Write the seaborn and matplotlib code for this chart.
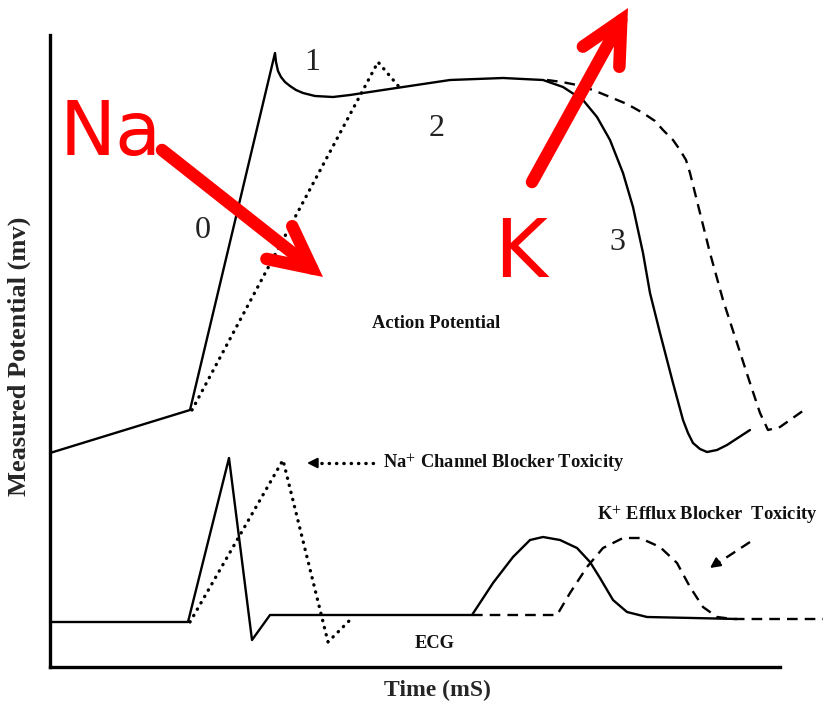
import numpy as np
import pandas as pd
import matplotlib
matplotlib.use("Agg")
import matplotlib.pyplot as plt
import seaborn as sns

# potentiel d'action (courbe normale, bloqueur K+, bloqueur Na+)
ap_t = [0, 140, 225, 226, 228, 231, 235, 240, 246, 253, 265, 283, 300, 333, 400,
        453, 493, 513, 533, 547, 560, 573, 583, 593, 600, 610, 623, 633, 638, 643,
        650, 657, 667, 677, 700]
ap_v = [214, 257, 614, 605, 596, 590, 585, 581, 577, 574, 571, 570, 572, 577, 587,
        589, 587, 580, 567, 550, 527, 494, 460, 414, 374, 334, 284, 247, 234, 224,
        218, 215, 217, 222, 237]

apk_t = [497, 512, 527, 543, 560, 577, 593, 605, 613, 623, 630, 636, 640, 650,
         660, 673, 687, 700, 710, 718, 730, 757]
apk_v = [587, 585, 582, 577, 570, 563, 554, 546, 537, 527, 517, 507, 494, 454,
         414, 367, 324, 284, 254, 237, 240, 259]

apna_t = [142, 328, 350]
apna_v = [257, 605, 579]

# ECG
ecg_t = [0, 138, 179, 202, 220, 422, 443, 463, 480, 493, 510, 527, 540, 550, 563,
         577, 597, 643, 687]
ecg_v = [45, 45, 209, 27, 52, 52, 84, 110, 127, 130, 127, 119, 105, 89, 67,
         55, 50, 49, 48]

ecgna_t = [140, 233, 278, 303]
ecgna_v = [45, 207, 25, 50]

ecgk_t = [422, 507, 520, 537, 553, 573, 590, 610, 627, 640, 653, 667, 683, 773]
ecgk_v = [52, 52, 74, 100, 119, 129, 129, 120, 104, 80, 60, 50, 48, 48]

phase_labels = ["0", "1", "2", "3"]
phase_pos = [(153, 437), (262, 604), (387, 539), (567, 424)]

sns.set_style("white")
plt.rcParams["font.family"] = ["Liberation Serif", "DejaVu Serif"]
plt.rcParams["mathtext.fontset"] = "stix"

fig = plt.figure(figsize=(8.3, 7.04), dpi=100)
ax = fig.add_axes([50 / 830, 37 / 704, 730 / 830, 632 / 704])
ax.set_xlim(0, 730)
ax.set_ylim(0, 632)

solid = dict(lw=1.7)
dashed = dict(lw=1.7, linestyle=(0, (4.5, 3)))
dotted = dict(lw=2.4, linestyle=(0, (0.1, 2.1)), dash_capstyle="round")
kw = dict(ax=ax, color="black", sort=False, clip_on=False, legend=False)

sns.lineplot(x=ap_t, y=ap_v, **solid, **kw)
sns.lineplot(x=apk_t, y=apk_v, **dashed, **kw)
sns.lineplot(x=apna_t, y=apna_v, **dotted, **kw)
sns.lineplot(x=ecg_t, y=ecg_v, **solid, **kw)
sns.lineplot(x=ecgk_t, y=ecgk_v, **dashed, **kw)
sns.lineplot(x=ecgna_t, y=ecgna_v, **dotted, **kw)

for lab, (tx, ty) in zip(phase_labels, phase_pos):
    ax.text(tx, ty, lab, fontsize=23, ha="center", va="center", color="#222222")

bold = dict(fontweight="bold", fontsize=13.3, color="#111111")
ax.text(386, 344, "Action Potential", ha="center", va="center", **bold)
ax.text(333, 203, r"Na$^{+}$ Channel Blocker Toxicity", ha="left", va="center", **bold)
ax.text(547, 151, r"K$^{+}$ Efflux Blocker  Toxicity", ha="left", va="center", **bold)
ax.text(385, 24, "ECG", ha="center", va="center", **bold)

# flèche pointillée Na+
sns.lineplot(x=[323, 263], y=[204, 204], **dotted, **kw)
ax.annotate("", xy=(257, 204), xytext=(265, 204),
            arrowprops=dict(arrowstyle="-|>,head_length=0.6,head_width=0.3",
                            color="black", lw=1.5, shrinkA=0, shrinkB=0))
# flèche tiretée K+
sns.lineplot(x=[700, 668], y=[125, 104], **dashed, **kw)
ax.annotate("", xy=(660, 99), xytext=(667, 104),
            arrowprops=dict(arrowstyle="-|>,head_length=0.6,head_width=0.3",
                            color="black", lw=1.5, shrinkA=0, shrinkB=0))

# annotations rouges
ax.text(10, 512, "Na", color="red", fontsize=54, family="DejaVu Sans",
        ha="left", va="baseline")
ax.text(444, 390, "K", color="red", fontsize=58, family="DejaVu Sans",
        ha="left", va="baseline")
red = dict(arrowstyle="->,head_length=3.0,head_width=1.5", color="red", lw=9,
           shrinkA=0, shrinkB=0, joinstyle="miter", capstyle="round")
ax.annotate("", xy=(273, 390), xytext=(112, 517), arrowprops=red, annotation_clip=False)
ax.annotate("", xy=(578, 659), xytext=(482, 485), arrowprops=red, annotation_clip=False)

sns.despine(ax=ax)
for s in ["left", "bottom"]:
    ax.spines[s].set_linewidth(2.4)
    ax.spines[s].set_color("black")
ax.set_xticks([])
ax.set_yticks([])
fig.text(437 / 830, 1 - 690 / 704, "Time (mS)", fontweight="bold", fontsize=17,
         ha="center", va="center")
ax.set_ylabel("Measured Potential (mv)", fontweight="bold", fontsize=19)
ax.yaxis.set_label_coords(-0.026, 0.492)

fig.savefig("out.png", dpi=100)
